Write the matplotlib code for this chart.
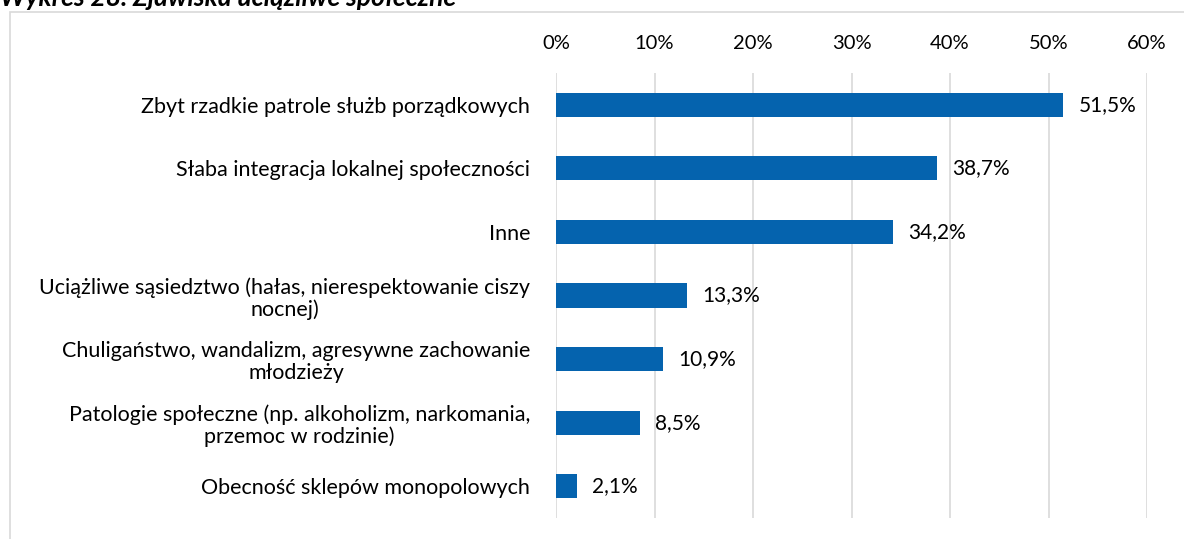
import matplotlib
matplotlib.use("Agg")
import matplotlib.pyplot as plt
from matplotlib.ticker import PercentFormatter

plt.rcParams['font.family'] = ['Lato', 'DejaVu Sans']

# dane z wykresu
kategorie = [
    "Zbyt rzadkie patrole służb porządkowych",
    "Słaba integracja lokalnej społeczności",
    "Inne",
    "Uciążliwe sąsiedztwo (hałas, nierespektowanie ciszy\nnocnej)",
    "Chuligaństwo, wandalizm, agresywne zachowanie\nmłodzieży",
    "Patologie społeczne (np. alkoholizm, narkomania,\nprzemoc w rodzinie)",
    "Obecność sklepów monopolowych",
]
wartosci = [51.5, 38.7, 34.2, 13.3, 10.9, 8.5, 2.1]
ticki = [0, 10, 20, 30, 40, 50, 60]

W, H = 1184, 539
fig = plt.figure(figsize=(W / 100, H / 100), dpi=100)

# ramka wykresu (ucięta z prawej i z dołu)
fig.add_artist(plt.Rectangle((10 / W, -0.1), 1.1, 1 - 12 / H + 0.1,
                             transform=fig.transFigure, fill=False,
                             edgecolor='#d9d9d9', linewidth=1.2))

fig.text(0.0, 1 - 6 / H, "Wykres 28. Zjawiska uciążliwe społeczne",
         fontsize=19, fontweight='bold', fontstyle='italic',
         va='baseline', ha='left')

ax = fig.add_axes([556 / W, 1 - 518 / H, (1147 - 556) / W, (518 - 73) / H])

y = list(range(len(kategorie)))
ax.barh(y, wartosci, height=0.38, color='#0563AE', zorder=3)

for yi, v in zip(y, wartosci):
    ax.annotate(f"{v:.1f}%".replace('.', ','), (v, yi), xytext=(11, 0),
                textcoords='offset points', va='center', ha='left',
                fontsize=15, color='#000000')

ax.set_xlim(0, 60)
ax.set_ylim(len(kategorie) - 0.5, -0.5)
ax.set_xticks(ticki)
ax.xaxis.set_major_formatter(PercentFormatter(decimals=0))
ax.xaxis.tick_top()
ax.set_yticks(y)
ax.set_yticklabels(kategorie)
for lab in ax.get_yticklabels():
    lab.set_multialignment('center')
    lab.set_linespacing(1.1)

ax.tick_params(axis='x', length=0, pad=15, labelsize=14.5)
ax.tick_params(axis='y', length=0, pad=18.5, labelsize=15.5)
ax.grid(axis='x', color='#d9d9d9', linewidth=1.2, zorder=0)
for s in ax.spines.values():
    s.set_visible(False)

fig.savefig("out.png", dpi=100)
